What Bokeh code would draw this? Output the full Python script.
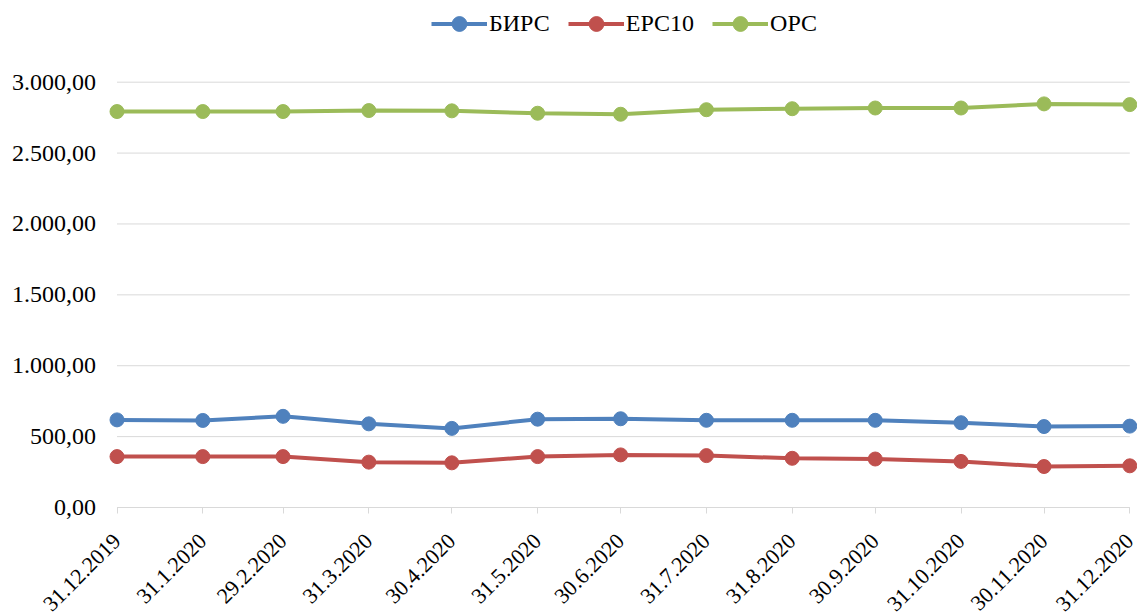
import datetime as dt
from math import pi

from bokeh.plotting import figure
from bokeh.models import Range1d, FixedTicker, Legend, LegendItem, ColumnDataSource
from bokeh.embed import file_html
from bokeh.resources import INLINE

# ---- data ----
dates = ["31.12.2019", "31.1.2020", "29.2.2020", "31.3.2020", "30.4.2020", "31.5.2020",
         "30.6.2020", "31.7.2020", "31.8.2020", "30.9.2020", "31.10.2020", "30.11.2020",
         "31.12.2020"]
birs = [618, 614, 643, 590, 558, 623, 626, 615, 615, 615, 598, 571, 574]
eps10 = [359, 359, 359, 320, 315, 359, 371, 366, 347, 342, 325, 289, 294]
ops = [2793, 2793, 2793, 2800, 2798, 2781, 2774, 2806, 2813, 2818, 2818, 2847, 2842]
series_names = ["БИРС", "ЕРС10", "ОРС"]
y_ticks = [0, 500, 1000, 1500, 2000, 2500, 3000]

colors = ["#4F81BD", "#C0504D", "#9BBB59"]
FONT = "Liberation Serif"

d0 = dt.datetime.strptime(dates[0], "%d.%m.%Y")
days = [(dt.datetime.strptime(d, "%d.%m.%Y") - d0).days for d in dates]


def fmt(v):
    s = f"{v:,.2f}"
    return s.replace(",", "#").replace(".", ",").replace("#", ".")


# frame spans the whole canvas; both axes are pinned at data locations
p = figure(width=1137, height=614, output_backend="svg", toolbar_location=None,
           x_range=Range1d(-42.10, 368.78), y_range=Range1d(-754.8, 3576.3),
           min_border_left=0, min_border_right=0, min_border_top=0,
           min_border_bottom=0)
p.outline_line_color = None
p.background_fill_color = "white"
p.border_fill_color = "white"
p.xgrid.visible = False
p.ygrid.visible = False

# horizontal gridlines spanning the date range only
p.segment(x0=days[0], x1=days[-1], y0=y_ticks, y1=y_ticks,
          line_color="#D9D9D9", line_width=1, level="underlay")

items = []
for name, vals, col in zip(series_names, [birs, eps10, ops], colors):
    src = ColumnDataSource(dict(x=days, y=vals))
    l = p.line("x", "y", source=src, line_color=col, line_width=4)
    s = p.scatter("x", "y", source=src, size=14, fill_color=col, line_color=col,
                  line_width=1)
    items.append(LegendItem(label=name, renderers=[l, s]))

legend = Legend(items=items, location=(431, 572), orientation="horizontal",
                glyph_width=56, glyph_height=37, label_standoff=2, spacing=18,
                padding=0, margin=0, border_line_color=None,
                background_fill_alpha=0, label_text_font=FONT,
                label_text_font_size="24px", label_text_color="black")
p.add_layout(legend)

# x axis
xa = p.xaxis[0]
xa.fixed_location = 0
xa.ticker = FixedTicker(ticks=days)
xa.major_label_overrides = {d: s for d, s in zip(days, dates)}
xa.bounds = (days[0], days[-1])
xa.axis_line_color = "#D9D9D9"
xa.axis_line_width = 1
xa.major_tick_line_color = "#D9D9D9"
xa.major_tick_out = 6
xa.major_tick_in = 0
xa.minor_tick_line_color = None
xa.major_label_orientation = pi / 4
xa.major_label_standoff = 24
xa.major_label_text_font = FONT
xa.major_label_text_font_size = "22px"
xa.major_label_text_color = "black"

# y axis
ya = p.yaxis[0]
ya.fixed_location = days[0]
ya.ticker = FixedTicker(ticks=y_ticks)
ya.major_label_overrides = {t: fmt(t) for t in y_ticks}
ya.bounds = (y_ticks[0], y_ticks[-1])
ya.axis_line_color = None
ya.major_tick_line_color = None
ya.minor_tick_line_color = None
ya.major_tick_out = 0
ya.major_tick_in = 0
ya.major_label_standoff = 21
ya.major_label_text_font = FONT
ya.major_label_text_font_size = "24px"
ya.major_label_text_color = "black"

open("out.html", "w").write(file_html(p, INLINE))
